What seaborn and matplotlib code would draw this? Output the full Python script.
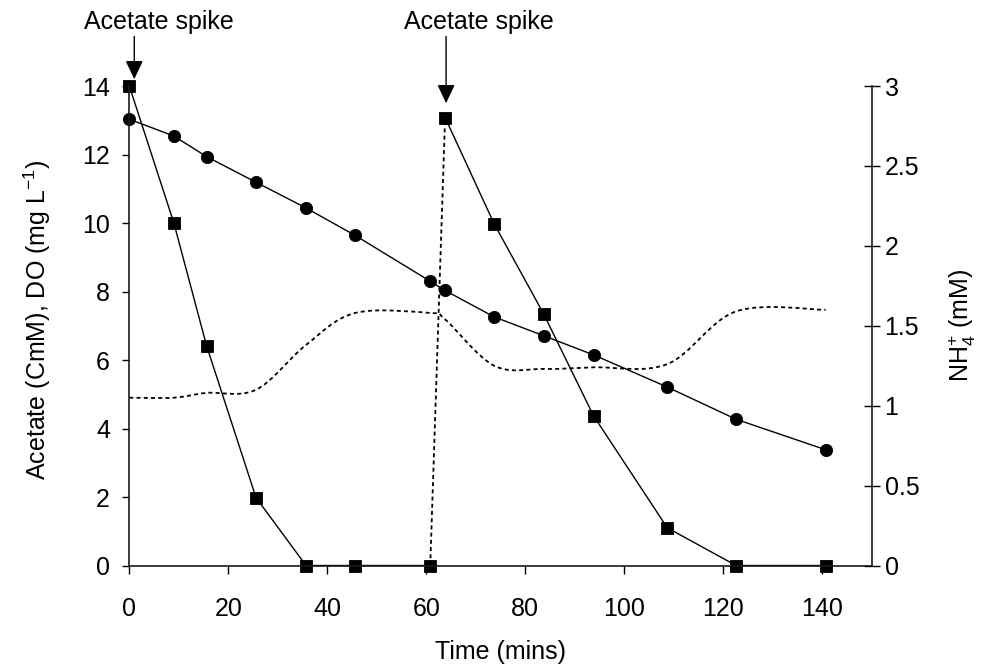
import numpy as np
import pandas as pd
import matplotlib
matplotlib.use("Agg")
import matplotlib.pyplot as plt
from matplotlib.path import Path
from matplotlib.patches import PathPatch
import seaborn as sns

# Sampling times (min) shared by every series
time_min = [0, 9, 15.6, 25.6, 35.7, 45.6, 60.8, 63.8, 73.7, 83.7, 93.8, 108.7, 122.6, 140.7]
# Acetate (C-mM), squares
acetate_cmm = [14.0, 10.0, 6.42, 1.98, 0.0, 0.0, 0.0, 13.08, 9.98, 7.35, 4.37, 1.1, 0.0, 0.0]
# Dissolved oxygen (mg/L), circles
do_mg_l = [13.03, 12.54, 11.94, 11.19, 10.44, 9.64, 8.30, 8.03, 7.26, 6.71, 6.15, 5.21, 4.27, 3.38]
# Ammonium (mM), smoothed dotted curve on the right axis
nh4_mm = [1.05, 1.05, 1.08, 1.10, 1.38, 1.58, 1.58, 1.54, 1.25, 1.23, 1.24, 1.26, 1.59, 1.60]

# Acetate additions: arrow x, arrow tip (left-axis units)
spike_labels = ["Acetate spike", "Acetate spike"]
spike_arrow_x = [1.0, 64.0]
spike_arrow_tip = [14.2, 13.5]
spike_text_x = [6.0, 70.7]

x_ticks = [0, 20, 40, 60, 80, 100, 120, 140]
left_ticks = [0, 2, 4, 6, 8, 10, 12, 14]
right_ticks = [0, 0.5, 1, 1.5, 2, 2.5, 3]
right_tick_labels = ["0", "0.5", "1", "1.5", "2", "2.5", "3"]

df = pd.DataFrame({"time": time_min, "acetate": acetate_cmm, "do": do_mg_l, "nh4": nh4_mm})

sns.set_theme(style="ticks")
plt.rcParams["font.family"] = ["Liberation Sans", "DejaVu Sans"]
plt.rcParams["mathtext.fontset"] = "custom"
plt.rcParams["mathtext.rm"] = "Liberation Sans"
plt.rcParams["mathtext.it"] = "Liberation Sans:italic"
plt.rcParams["mathtext.bf"] = "Liberation Sans:bold"

FS = 18
fig = plt.figure(figsize=(9.82, 6.69), dpi=100)
ax = fig.add_axes([0.1317, 0.1547, 0.8877 - 0.1317, 0.8714 - 0.1547])
ax2 = ax.twinx()

line_kw = dict(color="black", lw=1.0, estimator=None, sort=False, legend=False,
               markeredgecolor="black", markeredgewidth=0.6)

# DO: circles joined by a solid line
sns.lineplot(data=df, x="time", y="do", ax=ax, marker="o", markersize=8.8, **line_kw)

# Acetate: solid decay segments, dotted jump at the second addition
first = df.iloc[0:7]
jump = df.iloc[6:8]
second = df.iloc[7:14]
sns.lineplot(data=first, x="time", y="acetate", ax=ax, marker="s", markersize=8.6, **line_kw)
sns.lineplot(data=jump, x="time", y="acetate", ax=ax, linestyle=(0, (2.2, 1.8)),
             color="black", lw=1.3, estimator=None, sort=False, legend=False)
sns.lineplot(data=second, x="time", y="acetate", ax=ax, marker="s", markersize=8.6, **line_kw)

for ln in ax.lines:
    ln.set_clip_on(False)

# NH4+: smoothed (Bezier) dotted curve through the measured values
t = np.asarray(time_min, float)
v = np.asarray(nh4_mm, float)
pts = np.column_stack([t, v])
verts = [tuple(pts[0])]
codes = [Path.MOVETO]
n = len(pts)
for i in range(n - 1):
    p0 = pts[i - 1] if i > 0 else pts[i]
    p1 = pts[i]
    p2 = pts[i + 1]
    p3 = pts[i + 2] if i + 2 < n else pts[i + 1]
    c1 = p1 + (p2 - p0) / 6.0
    c2 = p2 - (p3 - p1) / 6.0
    verts += [tuple(c1), tuple(c2), tuple(p2)]
    codes += [Path.CURVE4, Path.CURVE4, Path.CURVE4]
nh4_patch = PathPatch(Path(verts, codes), facecolor="none", edgecolor="black",
                      lw=1.3, linestyle=(0, (2.2, 1.8)))
ax2.add_patch(nh4_patch)

# Axes limits and ticks
ax.set_xlim(0, 150)
ax.set_ylim(0, 14)
ax2.set_ylim(0, 3)
ax.set_xticks(x_ticks)
ax.set_xticklabels([str(x) for x in x_ticks])
ax.set_yticks(left_ticks)
ax.set_yticklabels([str(y) for y in left_ticks])
ax2.set_yticks(right_ticks)
ax2.set_yticklabels(right_tick_labels)

ax.tick_params(axis="x", direction="out", length=5.5, width=1.0, pad=17,
               labelsize=FS, colors="black")
ax.tick_params(axis="y", direction="out", length=5, width=1.0, pad=9,
               labelsize=FS, colors="black")
ax2.tick_params(axis="y", direction="inout", length=11.5, width=1.0, pad=3.5,
                labelsize=FS, colors="black")

for a in (ax, ax2):
    a.spines["top"].set_visible(False)
    for s in a.spines.values():
        s.set_linewidth(1.2)
        s.set_color("#1a1a1a")
    a.grid(False)
    a.set_facecolor("none")
ax2.spines["left"].set_visible(False)
ax2.spines["bottom"].set_visible(False)
ax.spines["right"].set_visible(False)

ax.set_xlabel("Time (mins)", fontsize=FS, color="black")
ax.xaxis.set_label_coords(0.4993, -0.180)
ax.xaxis.label.set_va("center")

ax.set_ylabel(r"Acetate (CmM), DO (mg L$^{\mathregular{-1}}$)", fontsize=FS, color="black")
ax.yaxis.set_label_coords(-0.1243, 0.512)
ax.yaxis.label.set_va("center")

ax2.set_ylabel(r"NH$_{\mathregular{4}}^{\mathregular{+}}$ (mM)", fontsize=FS, color="black")
ax2.yaxis.set_label_coords(1.1217, 0.5016)
ax2.yaxis.label.set_va("center")

# Spike annotations
for lab, xa, tip, xt in zip(spike_labels, spike_arrow_x, spike_arrow_tip, spike_text_x):
    ax.annotate("", xy=(xa, tip), xytext=(xa, 15.45), xycoords="data",
                annotation_clip=False,
                arrowprops=dict(arrowstyle="-|>,head_length=0.95,head_width=0.45",
                                color="black", lw=1.0, shrinkA=0, shrinkB=0))
    ax.text(xt, 15.66, lab, ha="center", va="baseline", fontsize=FS,
            color="black", clip_on=False)

fig.savefig("out.png", dpi=100, facecolor="white")
